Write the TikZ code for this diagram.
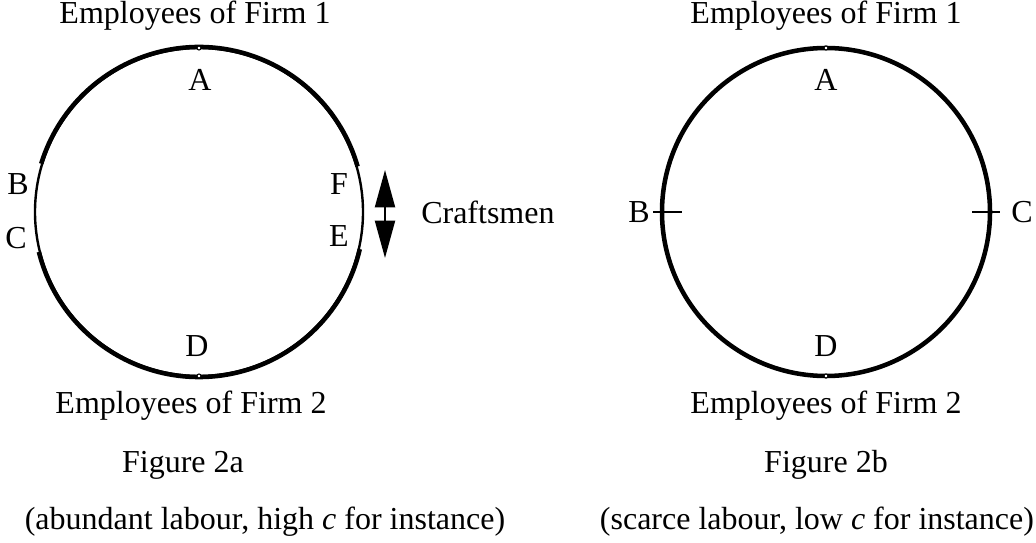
\documentclass[tikz,border=0pt]{standalone}
\usepackage{fontspec}
\setmainfont{Liberation Serif}
\usetikzlibrary{arrows.meta, calc}

\tikzset{
  lbl/.style={font=\fontsize{24}{28}\selectfont, inner sep=0pt},
  ring/.style={line width=3.4pt},
  thinring/.style={line width=1.8pt},
  notch/.style={draw, fill=white, line width=0.8pt},
}

\begin{document}
\begin{tikzpicture}[x=0.75pt, y=0.75pt]
\useasboundingbox (0,0) rectangle (1036,543);
\coordinate (O1) at (199,331);
\coordinate (O2) at (826,331);
% Figure 2a
\draw[thinring] (O1) circle (164);
\draw[ring] ($(O1)+(16:165)$) arc (16:163:165);
\draw[ring] ($(O1)+(194:165)$) arc (194:347:165);
\fill[notch] ($(O1)+(90:164)$) circle (2);
\fill[notch] ($(O1)+(270:164)$) circle (2);
\node[lbl] (firm1a) at (195,527) {Employees of Firm 1};
\node[lbl] (A1) at (200,463) {A};
\node[lbl] (B1) at (18,359) {B};
\node[lbl] (C1) at (16,305) {C};
\node[lbl] (F1) at (339,359) {F};
\node[lbl] (E1) at (339,307) {E};
\node[lbl] (D1) at (197,197) {D};
\node[lbl] (firm2a) at (191,137) {Employees of Firm 2};
\node[lbl] (figa) at (183,78) {Figure 2a};
\node[lbl] (capa) at (265,21) {(abundant labour, high \textit{c} for instance)};
\coordinate (up) at (385,373);
\coordinate (dn) at (385,285);
\draw[line width=1.5pt, {Triangle[length=28pt,width=15pt]}-{Triangle[length=28pt,width=15pt]}] (dn) -- (up);
\node[lbl, anchor=west] (craft) at (421,331) {Craftsmen};
% Figure 2b
\draw[line width=3.4pt] (O2) circle (164);
\fill[notch] ($(O2)+(90:164)$) circle (2);
\fill[notch] ($(O2)+(270:164)$) circle (2);
\draw[line width=1.5pt] ($(O2)+(-173,0)$) -- ($(O2)+(-144,0)$);
\draw[line width=1.5pt] ($(O2)+(146,0)$) -- ($(O2)+(174,0)$);
\node[lbl] (firm1b) at (826,527) {Employees of Firm 1};
\node[lbl] (A2) at (826,463) {A};
\node[lbl] (B2) at (639,331) {B};
\node[lbl] (C2) at (1022,331) {C};
\node[lbl] (D2) at (826,197) {D};
\node[lbl] (firm2b) at (826,137) {Employees of Firm 2};
\node[lbl] (figb) at (826,78) {Figure 2b};
\node[lbl] (capb) at (817,21) {(scarce labour, low \textit{c} for instance)};
\end{tikzpicture}
\end{document}
